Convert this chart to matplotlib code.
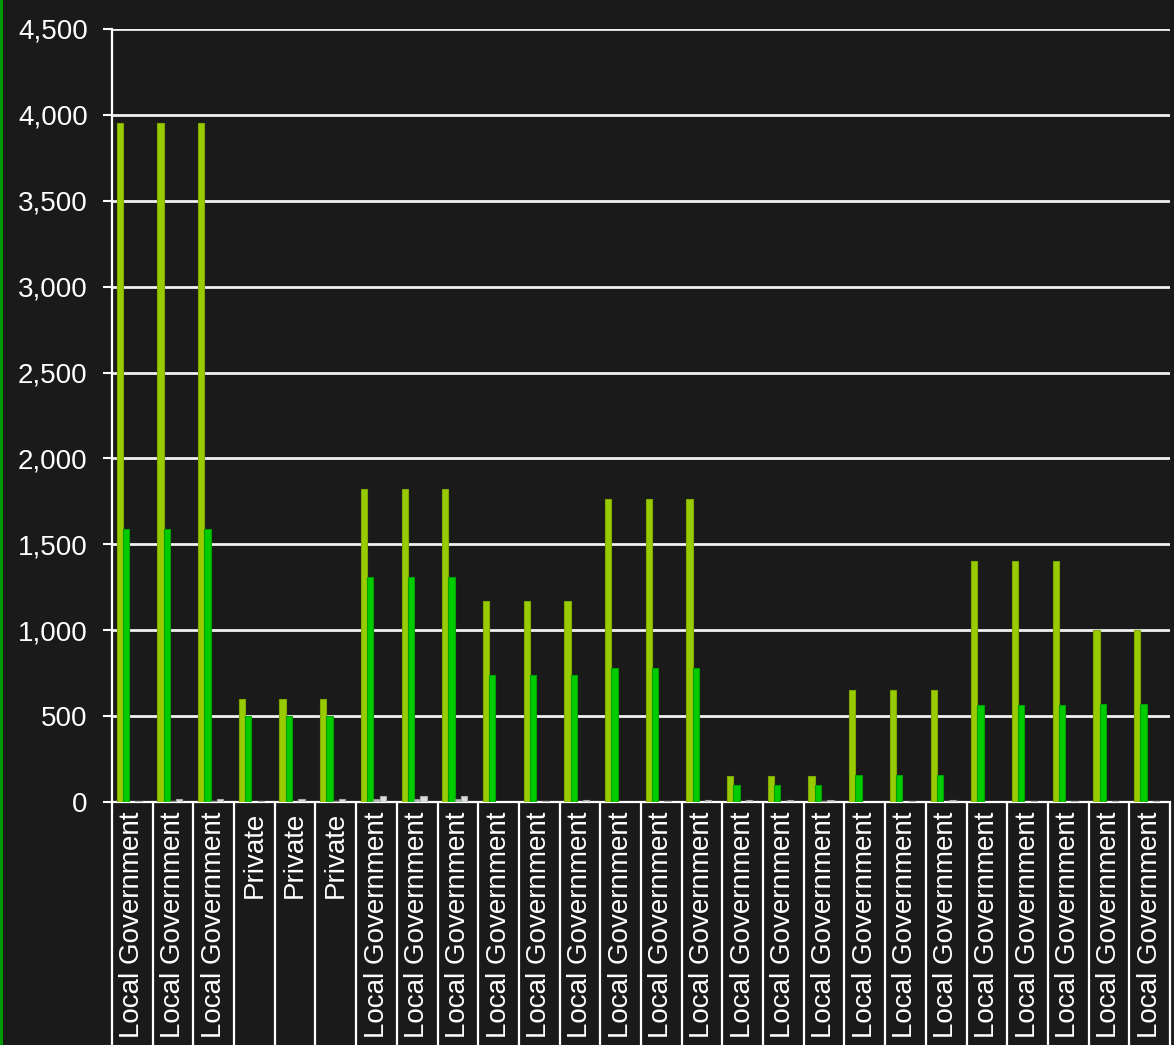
import matplotlib.pyplot as plt
import numpy as np
from matplotlib.patches import Rectangle

categories = ['Local Government'] * 3 + ['Private'] * 3 + ['Local Government'] * 20
series_a = [3950, 3950, 3950, 600, 600, 600, 1825, 1825, 1825, 1170, 1170, 1170,
            1765, 1765, 1765, 150, 150, 150, 650, 650, 650, 1405, 1405, 1405, 1000, 1000]
series_b = [1590, 1590, 1590, 503, 503, 503, 1310, 1310, 1310, 742, 742, 742,
            779, 779, 779, 100, 100, 100, 155, 155, 155, 563, 563, 563, 570, 570]
series_c = [0, 5, 5, 0, 2, 3, 15, 15, 15, 0, 0, 0,
            0, 0, 0, 0, 0, 4, 0, 0, 0, 0, 0, 0, 0, 0]
series_d = [4, 20, 20, 5, 15, 15, 35, 35, 35, 0, 3, 12,
            2, 3, 12, 12, 12, 12, 0, 3, 10, 0, 3, 3, 3, 3]

bg = '#1a1a1a'
fig = plt.figure(figsize=(11.74, 10.45), dpi=100, facecolor=bg)
ax = fig.add_axes([112 / 1174, 1 - 802 / 1045, 1058 / 1174, 773 / 1045])
ax.set_facecolor(bg)
fig.patches.append(Rectangle((0, 0), 3 / 1174, 1, transform=fig.transFigure,
                             facecolor='#009a00', edgecolor='none'))

x = np.arange(len(categories))
w = 1 / 6.5
cols = [('#99cc00', '#7fa800'), ('#00cc00', '#00a000'),
        ('#b4c4b4', '#8a9a8a'), ('#dcdcdc', '#aaaaaa')]
for k, vals in enumerate([series_a, series_b, series_c, series_d]):
    ax.bar(x + (k - 2) * w, vals, width=w, color=cols[k][0],
           edgecolor=cols[k][1], linewidth=0.8, zorder=3)

ax.set_xlim(-0.5, len(categories) - 0.5)
ax.set_ylim(0, 4500)
ax.set_yticks(np.arange(0, 4501, 500))
ax.set_yticklabels([f'{v:,}' for v in range(0, 4501, 500)])
ax.yaxis.grid(True, color='#f0f0f0', linewidth=2)
ax.set_axisbelow(True)

ax.set_xticks(x)
ax.set_xticklabels(categories, rotation=90, va='top', ha='center')
ax.set_xticks(np.arange(-0.5, len(categories)), minor=True)
ax.tick_params(axis='x', which='major', length=0, pad=7, labelsize=20, labelcolor='white')
ax.tick_params(axis='x', which='minor', length=180, width=1.6, color='white', direction='out')
ax.tick_params(axis='y', length=6.5, width=1.5, color='white', pad=11, labelsize=20,
               labelcolor='white')

for s in ['top', 'right']:
    ax.spines[s].set_visible(False)
for s in ['left', 'bottom']:
    ax.spines[s].set_color('white')
    ax.spines[s].set_linewidth(1.6)

plt.rcParams['font.family'] = ['Liberation Sans', 'DejaVu Sans']
for t in ax.get_xticklabels() + ax.get_yticklabels():
    t.set_family(['Liberation Sans', 'DejaVu Sans'])

fig.savefig('out.png', facecolor=bg)
